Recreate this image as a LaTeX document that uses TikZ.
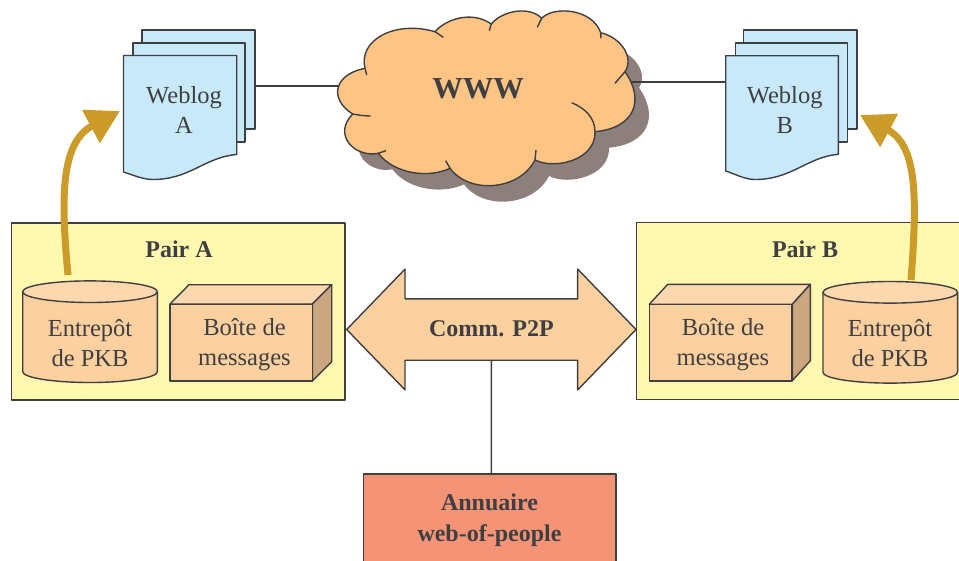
\documentclass[tikz,border=0pt]{standalone}
\usepackage{fontspec}
\setmainfont{Liberation Serif}
\usepackage{tikz}
\usetikzlibrary{shapes.arrows,arrows.meta}
\definecolor{inkgrey}{HTML}{3F3F42}
\definecolor{pagecol}{HTML}{C8E9FA}
\definecolor{cloudcol}{HTML}{FDC484}
\definecolor{shadowcol}{HTML}{8D7F7C}
\definecolor{paircol}{HTML}{FFF8AE}
\definecolor{boxcol}{HTML}{FDD09F}
\definecolor{boxtop}{HTML}{FDD8AE}
\definecolor{boxside}{HTML}{CBA67F}
\definecolor{goldcol}{HTML}{CC9C2A}
\definecolor{annucol}{HTML}{F59377}
\tikzset{
    outline/.style={draw=inkgrey,line width=1.4pt,line join=round},
    txt/.style={text=inkgrey,align=center,inner sep=0pt,font=\fontsize{24.5}{30}\selectfont},
    boldtxt/.style={txt,font=\fontsize{24}{31}\selectfont\bfseries},
    rectbox/.style={outline,rectangle,inner sep=0pt,outer sep=0pt},
    pagebox/.style={rectbox,fill=pagecol},
    pairbox/.style={rectbox,fill=paircol,minimum height=177pt},
    msgbox/.style={rectbox,fill=boxcol,minimum width=142.5pt,minimum height=76.6pt},
    goldarrow/.style={draw=goldcol,line width=7pt,-{Triangle[length=33pt,width=36pt,fill=goldcol]}},
    link/.style={draw=inkgrey,line width=1.4pt}
}
\newcommand{\cloudpath}{
    (365,68.3) .. controls (358,40) and (395,20) .. (435,31.7)
    .. controls (447,18) and (473,11) .. (491.3,24)
    .. controls (503,10) and (530,6) .. (541.7,18.3)
    .. controls (553,6) and (592,8) .. (600.7,32.7)
    .. controls (622,38) and (634,58) .. (625,71.7)
    .. controls (645,100) and (635,128) .. (595,131.7)
    .. controls (596,160) and (555,170) .. (535,160)
    .. controls (520,190) and (470,195) .. (450,168.3)
    .. controls (430,178) and (395,175) .. (378.3,153.3)
    .. controls (355,158) and (332,135) .. (352.7,114)
    .. controls (330,100) and (332,75) .. (365,68.3) -- cycle
}
\newcommand{\pkbdrum}[2]{
    \draw[outline,fill=boxcol] (#1-67.3,#2) -- (#1-67.3,#2+80)
        arc[start angle=180,end angle=360,x radius=67.3pt,y radius=10.8pt] -- (#1+67.3,#2) -- cycle;
    \draw[outline,fill=boxtop] (#1,#2) ellipse [x radius=67.3pt,y radius=10.8pt];
}
\begin{document}
\begin{tikzpicture}[x=1pt,y=-1pt]
                \useasboundingbox (0,0) rectangle (959,560);
                \coordinate (wwwW) at (339,86);
                \coordinate (wwwE) at (631,82);
                \coordinate (weblogAE) at (255.7,86);
                \coordinate (weblogBW) at (725.7,82);
                \coordinate (pkbAout) at (68,275);
                \coordinate (pkbBout) at (911,280);
                \coordinate (weblogAin) at (120,111);
                \coordinate (weblogBin) at (860,115);
                \fill[shadowcol,shift={(14,16)}] \cloudpath;
                \draw[link] (weblogAE) -- (wwwW);
                \draw[link] (wwwE) -- (weblogBW);
                \draw[outline,fill=cloudcol] \cloudpath;
                \draw[outline] (435,31.7) -- (443.3,37.3);
                \draw[outline] (491.3,24) -- (489.3,30.7);
                \draw[outline] (541.7,18.3) -- (537.3,27.3);
                \draw[outline] (600.7,32.7) -- (601,38.3);
                \draw[outline] (625,71.7) -- (615,83.3);
                \draw[outline] (595,131.7) .. controls (595,118) and (585,108) .. (571.7,102.7);
                \draw[outline] (535,160) -- (536,150);
                \draw[outline] (450,168.3) -- (445.7,160.7);
                \draw[outline] (378.3,153.3) -- (386,150.7);
                \draw[outline] (352.7,114) .. controls (358,115) and (364,116) .. (370.7,116);
                \draw[outline] (365,68.3) -- (366.7,75);
                \node[boldtxt,font=\fontsize{30.5}{36}\selectfont\bfseries] (www) at (478,89) {WWW};
                \node[pagebox,minimum width=113pt,minimum height=99pt] (pageA3) at (198.5,79.5) {};
                \node[pagebox,minimum width=112pt,minimum height=99pt] (pageA2) at (189,92.5) {};
                \draw[outline,fill=pagecol] (123.5,55.5) -- (236.7,55.5) -- (236.7,154.5)
                    .. controls (205,157) and (190,179.5) .. (153,179.5)
                    .. controls (143,179.5) and (133,175) .. (123.5,172) -- cycle;
                \node[txt] (weblogA) at (184,110) {Weblog\\A};
                \node[pagebox,minimum width=113.7pt,minimum height=99pt] (pageB3) at (800.2,79.5) {};
                \node[pagebox,minimum width=112pt,minimum height=99pt] (pageB2) at (791.3,92.5) {};
                \draw[outline,fill=pagecol] (725.7,55.7) -- (838.3,55.7) -- (838.3,154.3)
                    .. controls (807,157) and (792,179.5) .. (755,179.5)
                    .. controls (745,179.5) and (735,174) .. (725.7,171) -- cycle;
                \node[txt] (weblogB) at (784.7,110) {Weblog\\B};
                \node[pairbox,minimum width=333.3pt] (pairA) at (178.35,311.3) {};
                \node[pairbox,minimum width=324.3pt] (pairB) at (798.85,310.8) {};
                \node[boldtxt] at (179,249) (pairAname) {Pair A};
                \node[boldtxt] at (805,249) (pairBname) {Pair B};
                \draw[goldarrow] (pkbAout) .. controls (61,200) and (60,143) .. (weblogAin);
                \draw[goldarrow] (pkbBout) .. controls (917,200) and (918,146) .. (weblogBin);
                \pkbdrum{90}{291.7}
                \pkbdrum{890.3}{292.3}
                \node[txt] (pkbAname) at (90,343) {Entrepôt\\de PKB};
                \node[txt] (pkbBname) at (890,343) {Entrepôt\\de PKB};
                \draw[outline,fill=boxtop] (170,304) -- (189,284.7) -- (331.7,284.7) -- (312.3,304) -- cycle;
                \draw[outline,fill=boxside] (312.3,304) -- (331.7,284.7) -- (331.7,361.7) -- (312.3,381) -- cycle;
                \node[msgbox] (msgA) at (241.1,342.5) {};
                \node[txt] (msgAname) at (244.5,345) {Boîte de\\messages};
                \draw[outline,fill=boxtop] (649.3,304.3) -- (667.7,284.3) -- (810.3,284.3) -- (792.3,304.3) -- cycle;
                \draw[outline,fill=boxside] (792.3,304.3) -- (810.3,284.3) -- (810.3,360.7) -- (792.3,380.7) -- cycle;
                \node[msgbox] (msgB) at (720.8,342.5) {};
                \node[txt] (msgBname) at (723,345) {Boîte de\\messages};
                \node[outline,double arrow,fill=boxcol,boldtxt,inner xsep=0pt,inner ysep=19pt,outer sep=0pt,
                    text height=18pt,text depth=4pt,minimum height=289.3pt,
                    double arrow head extend=29.7pt,double arrow tip angle=92] (comm) at (491.35,329.5) {Comm. P2P};
                \node[rectbox,fill=annucol,minimum width=252.7pt,minimum height=107pt] (annuaire) at (489.65,527.5) {};
                \node[boldtxt] (annuairename) at (489.5,520.5) {Annuaire\\web-of-people};
                \draw[link] (annuaire.north -| comm) -- (comm.south);
            \end{tikzpicture}
\end{document}
